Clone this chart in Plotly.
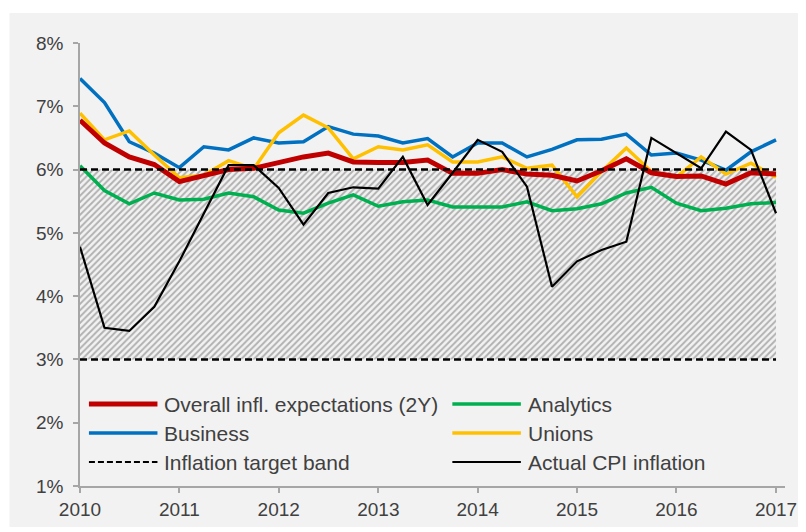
import plotly.graph_objects as go

# quarterly observations, 2010Q1 .. 2017Q1
quarters = [
    "2010-01-01", "2010-04-01", "2010-07-01", "2010-10-01",
    "2011-01-01", "2011-04-01", "2011-07-01", "2011-10-01",
    "2012-01-01", "2012-04-01", "2012-07-01", "2012-10-01",
    "2013-01-01", "2013-04-01", "2013-07-01", "2013-10-01",
    "2014-01-01", "2014-04-01", "2014-07-01", "2014-10-01",
    "2015-01-01", "2015-04-01", "2015-07-01", "2015-10-01",
    "2016-01-01", "2016-04-01", "2016-07-01", "2016-10-01",
    "2017-01-01",
]

overall = [6.78, 6.42, 6.20, 6.08, 5.81, 5.91, 6.00, 6.02, 6.12, 6.20,
           6.26, 6.12, 6.11, 6.11, 6.15, 5.94, 5.94, 6.00, 5.93, 5.91,
           5.82, 5.98, 6.17, 5.95, 5.89, 5.90, 5.77, 5.95, 5.93]
analytics = [6.06, 5.67, 5.46, 5.63, 5.52, 5.53, 5.63, 5.57, 5.36, 5.31,
             5.47, 5.60, 5.42, 5.49, 5.52, 5.41, 5.41, 5.41, 5.49, 5.35,
             5.38, 5.46, 5.63, 5.72, 5.47, 5.35, 5.39, 5.46, 5.48]
business = [7.44, 7.06, 6.44, 6.26, 6.03, 6.36, 6.31, 6.50, 6.42, 6.44,
            6.68, 6.56, 6.53, 6.42, 6.49, 6.20, 6.42, 6.42, 6.20, 6.32,
            6.47, 6.48, 6.56, 6.23, 6.26, 6.15, 5.99, 6.28, 6.47]
unions = [6.89, 6.47, 6.61, 6.23, 5.87, 5.91, 6.14, 6.01, 6.58, 6.86,
          6.66, 6.17, 6.36, 6.31, 6.39, 6.12, 6.12, 6.20, 6.02, 6.07,
          5.57, 5.97, 6.34, 5.97, 5.88, 6.20, 5.93, 6.10, 5.88]
cpi = [4.78, 3.50, 3.45, 3.83, 4.55, 5.30, 6.07, 6.07, 5.71, 5.13,
       5.63, 5.72, 5.70, 6.20, 5.44, 5.95, 6.47, 6.28, 5.73, 4.15,
       4.55, 4.73, 4.86, 6.50, 6.26, 6.02, 6.60, 6.31, 5.31]

band_low = 3
band_high = 6

legend_rows = [
    ("Overall infl. expectations (2Y)", "#C00000", 5, "solid",
     "Analytics", "#00B050", 3.5, "solid"),
    ("Business", "#0070C0", 3.5, "solid",
     "Unions", "#FFC000", 3.5, "solid"),
    ("Inflation target band", "black", 2, "6px,3px",
     "Actual CPI inflation", "black", 2, "solid"),
]

BG = "#F2F2F2"
AXIS = "#A6A6A6"
TXT = "#404040"
FONT = "Liberation Sans, Arial, sans-serif"

# page body has an 8px margin; the page ends up slightly wider than the
# window and gets squeezed horizontally, so x positions are pre-stretched
OFF = 8
FW, FH = 806 - OFF, 532 - OFF
SX = (FW + 2 * OFF) / 806
L, R = 79 * SX - OFF, 789 * SX - OFF
T, B = 43 - OFF, 486 - OFF
W, H = R - L, B - T

fig = go.Figure()

# hatched target band
band_x = [quarters[0], quarters[-1]]
fig.add_trace(go.Scatter(x=band_x, y=[band_low, band_low], mode="lines",
                         line=dict(width=0), showlegend=False, hoverinfo="skip"))
fig.add_trace(go.Scatter(x=band_x, y=[band_high, band_high], mode="lines",
                         line=dict(width=0), fill="tonexty",
                         fillcolor="rgba(0,0,0,0)",
                         fillpattern=dict(shape="/", fgcolor="#6e6e6e", bgcolor=BG,
                                          size=4.5, solidity=0.42),
                         showlegend=False, hoverinfo="skip"))

series = [
    ("Analytics", analytics, "#00B050", 3.5),
    ("Business", business, "#0070C0", 3.5),
    ("Unions", unions, "#FFC000", 3.5),
    ("Overall infl. expectations (2Y)", overall, "#C00000", 5),
]
for name, vals, col, w in series:
    fig.add_trace(go.Scatter(x=quarters, y=vals, mode="lines", name=name,
                             line=dict(color=col, width=w), showlegend=False))

for lvl in (band_low, band_high):
    fig.add_trace(go.Scatter(x=band_x, y=[lvl, lvl], mode="lines",
                             line=dict(color="black", width=2.5, dash="7px,4px"),
                             showlegend=False, hoverinfo="skip"))

fig.add_trace(go.Scatter(x=quarters, y=cpi, mode="lines", name="Actual CPI inflation",
                         line=dict(color="black", width=2.2), showlegend=False))


def px_x(p):
    # page pixel -> paper x
    return (p * SX - OFF - L) / W


def px_y(p):
    # page pixel -> paper y
    return (B - (p - OFF)) / H


shapes = [
    # grey chart box
    dict(type="rect", xref="paper", yref="paper", layer="below",
         x0=px_x(8), x1=px_x(806), y0=px_y(527), y1=px_y(13),
         fillcolor=BG, line=dict(width=0)),
]
annotations = []
row_y = [404, 433, 462]
for (t1, c1, w1, d1, t2, c2, w2, d2), yy in zip(legend_rows, row_y):
    for txt, col, w, d, x0 in ((t1, c1, w1, d1, 88), (t2, c2, w2, d2, 454)):
        shapes.append(dict(type="line", xref="paper", yref="paper",
                           x0=px_x(x0), x1=px_x(x0 + 69), y0=px_y(yy), y1=px_y(yy),
                           line=dict(color=col, width=w, dash=d)))
        annotations.append(dict(x=px_x(x0 + 74), y=px_y(yy), xref="paper", yref="paper",
                                text=txt, showarrow=False, xanchor="left", yanchor="middle",
                                font=dict(size=21, color=TXT, family=FONT)))

fig.update_layout(
    width=FW, height=FH,
    margin=dict(l=L, r=FW - R, t=T, b=FH - B),
    paper_bgcolor="white", plot_bgcolor=BG,
    font=dict(family=FONT, size=19, color=TXT),
    showlegend=False,
    shapes=shapes, annotations=annotations,
)
fig.update_xaxes(type="date", range=["2010-01-01", "2017-02-03"],
                 tick0="2010-01-01", dtick="M12", tickformat="%Y",
                 showgrid=False, zeroline=False,
                 showline=True, linecolor=AXIS, linewidth=1.5,
                 ticks="outside", ticklen=5, tickcolor=AXIS, tickwidth=1.5,
                 ticklabeloverflow="allow")
fig.update_yaxes(range=[1, 8], dtick=1, ticksuffix="%",
                 showgrid=False, zeroline=False,
                 showline=True, linecolor=AXIS, linewidth=1.5,
                 ticks="outside", ticklen=5, tickcolor=AXIS, tickwidth=1.5,
                 ticklabelstandoff=6)

fig.write_html("out.html")
